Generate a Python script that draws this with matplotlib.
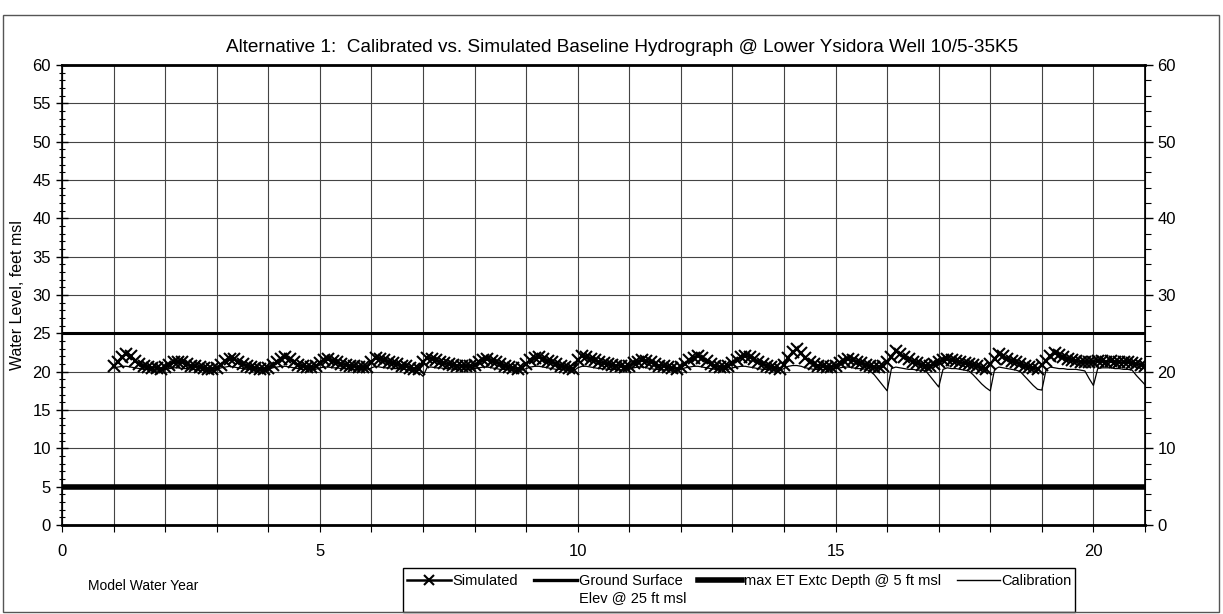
import numpy as np
import matplotlib
matplotlib.use("Agg")
import matplotlib.pyplot as plt
from matplotlib.lines import Line2D
from matplotlib.patches import Rectangle
from matplotlib.ticker import MultipleLocator, FuncFormatter

plt.rcParams['font.family'] = ['Liberation Sans', 'DejaVu Sans']

# monthly values, one row per model water year (1..20), plus the value at year 21
simulated = [
    [20.7, 21.3, 21.9, 22.3, 22.0, 21.4, 21.0, 20.7, 20.6, 20.5, 20.5, 20.4],
    [20.6, 20.9, 21.2, 21.3, 21.2, 21.0, 20.8, 20.7, 20.6, 20.5, 20.4, 20.4],
    [20.5, 20.9, 21.4, 21.7, 21.6, 21.3, 21.0, 20.8, 20.6, 20.5, 20.4, 20.4],
    [20.5, 20.9, 21.3, 21.7, 21.9, 21.6, 21.2, 20.9, 20.7, 20.6, 20.6, 20.7],
    [21.1, 21.5, 21.6, 21.4, 21.2, 21.0, 20.9, 20.8, 20.7, 20.6, 20.6, 20.6],
    [21.3, 21.8, 21.7, 21.5, 21.3, 21.1, 21.0, 20.8, 20.7, 20.5, 20.4, 20.3],
    [21.2, 21.8, 21.7, 21.5, 21.3, 21.1, 21.0, 20.9, 20.8, 20.7, 20.7, 20.7],
    [20.9, 21.2, 21.5, 21.6, 21.4, 21.2, 21.0, 20.8, 20.6, 20.5, 20.4, 20.5],
    [21.0, 21.5, 21.8, 21.9, 21.7, 21.4, 21.2, 21.0, 20.8, 20.6, 20.5, 20.4],
    [21.5, 22.1, 21.9, 21.7, 21.5, 21.3, 21.1, 21.0, 20.9, 20.8, 20.7, 20.6],
    [20.7, 21.1, 21.3, 21.5, 21.4, 21.2, 21.0, 20.8, 20.7, 20.6, 20.5, 20.4],
    [20.6, 21.0, 21.5, 21.8, 22.1, 21.8, 21.4, 21.0, 20.8, 20.6, 20.6, 20.8],
    [21.1, 21.5, 21.9, 22.1, 21.9, 21.6, 21.3, 21.0, 20.8, 20.6, 20.5, 20.4],
    [20.9, 21.8, 22.6, 22.9, 22.4, 21.8, 21.3, 21.0, 20.8, 20.7, 20.6, 20.6],
    [20.8, 21.1, 21.4, 21.6, 21.5, 21.3, 21.1, 20.9, 20.7, 20.6, 20.6, 20.7],
    [21.2, 21.9, 22.7, 22.3, 21.9, 21.6, 21.3, 21.1, 20.9, 20.8, 20.8, 21.0],
    [21.3, 21.5, 21.6, 21.5, 21.4, 21.2, 21.1, 21.0, 20.9, 20.7, 20.5, 20.4],
    [21.0, 21.7, 22.3, 22.0, 21.7, 21.4, 21.2, 21.0, 20.8, 20.6, 20.5, 20.4],
    [20.9, 21.4, 22.0, 22.5, 22.2, 21.9, 21.7, 21.5, 21.4, 21.3, 21.3, 21.3],
    [21.3, 21.4, 21.4, 21.3, 21.4, 21.3, 21.3, 21.2, 21.2, 21.1, 21.0, 20.9],
]
simulated_end = 20.8

calibration = [
    [20.5, 20.6, 20.7, 20.7, 20.6, 20.5, 20.4, 20.3, 20.3, 20.2, 20.2, 20.2],
    [20.3, 20.4, 20.5, 20.5, 20.4, 20.4, 20.3, 20.3, 20.2, 20.2, 20.2, 20.1],
    [20.3, 20.5, 20.6, 20.7, 20.6, 20.5, 20.4, 20.3, 20.3, 20.2, 20.2, 20.2],
    [20.3, 20.5, 20.6, 20.7, 20.7, 20.6, 20.5, 20.4, 20.3, 20.3, 20.3, 20.3],
    [20.5, 20.6, 20.6, 20.5, 20.5, 20.4, 20.4, 20.3, 20.3, 20.3, 20.3, 20.2],
    [20.5, 20.7, 20.6, 20.5, 20.5, 20.4, 20.4, 20.3, 20.3, 20.2, 20.1, 19.9],
    [19.4, 20.6, 20.6, 20.5, 20.5, 20.4, 20.4, 20.3, 20.3, 20.3, 20.3, 20.3],
    [20.4, 20.5, 20.6, 20.6, 20.5, 20.4, 20.3, 20.3, 20.2, 20.2, 20.2, 20.2],
    [20.4, 20.6, 20.7, 20.7, 20.6, 20.5, 20.4, 20.3, 20.3, 20.2, 20.2, 20.1],
    [20.5, 20.7, 20.7, 20.6, 20.5, 20.4, 20.4, 20.3, 20.3, 20.3, 20.2, 20.2],
    [20.3, 20.5, 20.6, 20.6, 20.5, 20.4, 20.3, 20.3, 20.2, 20.2, 20.2, 20.1],
    [20.3, 20.5, 20.6, 20.7, 20.7, 20.6, 20.5, 20.4, 20.3, 20.3, 20.3, 20.3],
    [20.5, 20.6, 20.7, 20.7, 20.6, 20.5, 20.4, 20.3, 20.3, 20.2, 20.2, 20.2],
    [20.4, 20.7, 20.8, 20.8, 20.7, 20.5, 20.4, 20.3, 20.3, 20.3, 20.3, 20.3],
    [20.4, 20.5, 20.6, 20.6, 20.5, 20.4, 20.4, 20.3, 20.1, 19.6, 18.9, 18.2],
    [17.5, 20.4, 20.6, 20.5, 20.4, 20.3, 20.3, 20.2, 20.2, 20.1, 19.4, 18.7],
    [18.0, 20.3, 20.5, 20.4, 20.4, 20.3, 20.2, 20.1, 19.6, 19.0, 18.4, 17.9],
    [17.5, 20.3, 20.6, 20.5, 20.4, 20.3, 20.2, 20.0, 19.4, 18.8, 18.2, 17.7],
    [17.6, 20.3, 20.6, 20.5, 20.4, 20.4, 20.3, 20.3, 20.3, 20.2, 20.1, 19.1],
    [18.2, 20.4, 20.5, 20.5, 20.5, 20.4, 20.4, 20.3, 20.3, 20.2, 19.5, 18.9],
]
calibration_end = 18.3

ground_surface = 25
max_et_depth = 5

first_year = 1
sim = np.append(np.array(simulated).ravel(), simulated_end)
cal = np.append(np.array(calibration).ravel(), calibration_end)
months = first_year + np.arange(len(sim)) / 12.0

W, H = 1223, 614
fig = plt.figure(figsize=(W / 100, H / 100), dpi=100)
ax = fig.add_axes([62 / W, 1 - 525 / H, (1145 - 62) / W, (525 - 65) / H])

ax.plot([0, 21], [ground_surface, ground_surface], color='black', lw=2.2, zorder=3)
ax.plot([0, 21], [max_et_depth, max_et_depth], color='black', lw=4.0, zorder=3)
ax.plot(months, cal, color='black', lw=0.9, zorder=4)
ax.plot(months, sim, color='black', lw=1.4, marker='x', markersize=9,
        markeredgewidth=1.5, zorder=5)

ax.set_xlim(0, 21)
ax.set_ylim(0, 60)
ax.xaxis.set_major_locator(MultipleLocator(5))
ax.xaxis.set_minor_locator(MultipleLocator(1))
ax.yaxis.set_major_locator(MultipleLocator(5))
ax.yaxis.set_minor_locator(MultipleLocator(1))
ax.grid(True, which='both', axis='x', color='#444444', lw=0.8)
ax.grid(True, which='major', axis='y', color='#444444', lw=0.8)
ax.set_axisbelow(True)
ax.tick_params(axis='x', which='both', direction='out', length=5, width=0.8,
               labelsize=12, pad=9)
ax.tick_params(axis='y', which='major', direction='inout', length=8, width=1.0,
               labelsize=12, pad=4)
ax.tick_params(axis='y', which='minor', direction='inout', length=5, width=0.8)
ax.xaxis.set_major_formatter(FuncFormatter(lambda v, p: f"{v:g}"))
for s in ['top', 'bottom']:
    ax.spines[s].set_linewidth(2.0)
for s in ['left', 'right']:
    ax.spines[s].set_linewidth(1.2)

ax2 = ax.twinx()
ax2.set_ylim(0, 60)
ax2.yaxis.set_major_locator(MultipleLocator(10))
ax2.yaxis.set_minor_locator(MultipleLocator(2))
ax2.tick_params(axis='y', which='major', direction='out', length=6, width=1.0,
                labelsize=12, pad=3)
ax2.tick_params(axis='y', which='minor', direction='out', length=4, width=0.8)

fig.text(622 / W, 1 - 48 / H,
         "Alternative 1:  Calibrated vs. Simulated Baseline Hydrograph @ Lower Ysidora Well 10/5-35K5",
         ha='center', va='center', fontsize=13.7)
fig.text(18 / W, 0.52, "Water Level, feet msl", rotation=90,
         ha='center', va='center', fontsize=11.5)
fig.text(88 / W, 1 - 586 / H, "Model Water Year", ha='left', va='center',
         fontsize=10)

handles = [
    Line2D([], [], color='black', lw=1.8, marker='x', markersize=7, markeredgewidth=1.5),
    Line2D([], [], color='black', lw=2.4),
    Line2D([], [], color='black', lw=4.0),
    Line2D([], [], color='black', lw=1.0),
]
labels = ["Simulated", "Ground Surface", "max ET Extc Depth @ 5 ft msl", "Calibration"]
leg = fig.legend(handles, labels, loc='upper left',
                 bbox_to_anchor=(407 / W, 1 - 594 / H, (1072 - 407) / W, 20 / H),
                 mode='expand', ncol=4, fontsize=10.5, frameon=False,
                 handlelength=3.0, handletextpad=0.1, columnspacing=0.2,
                 borderpad=0, borderaxespad=0)

# legend box and second line of the ground-surface label
fig.patches.append(Rectangle((403 / W, 1 - 612 / H), (1075 - 403) / W, 44 / H,
                             transform=fig.transFigure, fill=False,
                             edgecolor='black', lw=1.0))
fig.canvas.draw()
gs_box = leg.get_texts()[1].get_window_extent()
fig.text(gs_box.x0 / W, (gs_box.y0 - 17) / H, "Elev @ 25 ft msl",
         ha='left', va='bottom', fontsize=10.5)

# outer frame of the chart area
fig.patches.append(Rectangle((3 / W, 2 / H), 1216 / W, 597 / H,
                             transform=fig.transFigure, fill=False,
                             edgecolor='#555555', lw=1.0))

fig.savefig("out.png", dpi=100)
